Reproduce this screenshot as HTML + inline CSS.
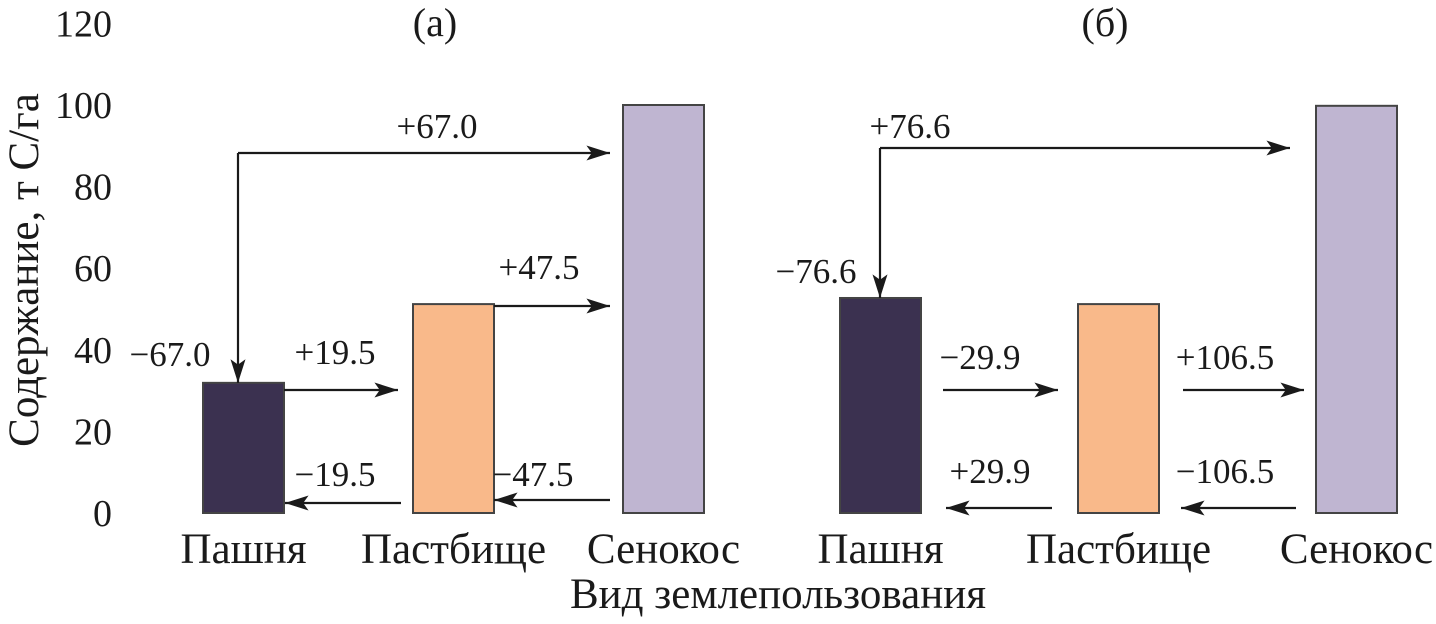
<!DOCTYPE html>
<html><head><meta charset="utf-8"><style>
html,body{margin:0;padding:0;background:#fff;}
svg text{font-family:"Liberation Serif",serif;fill:#1a1a1a;}
</style></head><body>
<svg id="c" width="1436" height="619" viewBox="0 0 1436 619" xmlns="http://www.w3.org/2000/svg">
<defs>
<marker id="ah2" viewBox="0 0 22 14" refX="22" refY="7" markerWidth="24" markerHeight="15" markerUnits="userSpaceOnUse" orient="auto"><path d="M0,0 L22,7 L0,14 L5,7 z" fill="#1a1a1a"/></marker></defs>
</svg>
<script>
const categories=["Пашня","Пастбище","Сенокос"];
const valuesA=[31.9,51.2,100];
const valuesB=[52.7,51.2,99.8];
const yTicks=[0,20,40,60,80,100,120];
const labelsA=["+67.0","−67.0","+19.5","−19.5","+47.5","−47.5"];
const labelsB=["+76.6","−76.6","−29.9","+29.9","+106.5","−106.5"];
const svg=document.getElementById('c');
const NS="http://www.w3.org/2000/svg";
function y(v){return 513-v*4.08;}
const barW=81;
const xA=[203,413,623], xB=[840,1078,1316];
const colors=["#3b3150","#f9b98a","#bfb5d1"];
function mk(tag,attrs,parent){const e=document.createElementNS(NS,tag);for(const k in attrs)e.setAttribute(k,attrs[k]);(parent||svg).appendChild(e);return e;}
function txt(s,x,yy,size,anchor){const t=mk('text',{x:x,y:yy,'font-size':size,'text-anchor':anchor||'middle'});t.textContent=s;return t;}
yTicks.forEach(v=>{const t=txt(String(v),112,y(v)+13,38,'end');

});
const yt=txt("Содержание, т С/га",0,0,43,'middle');yt.setAttribute('transform','translate(38,270) rotate(-90)');


const xt=txt("Вид землепользования",778,608,43);


const pa=txt("(а)",435,36,40);
const pb=txt("(б)",1105,36,40);
function bars(xs,vals,p){vals.forEach((v,i)=>{const r=mk('rect',{x:xs[i],y:y(v),width:barW,height:y(0)-y(v),fill:colors[i],stroke:'#444',"stroke-width":2});


const c=txt(categories[i],xs[i]+barW/2,563,43);

});}
bars(xA,valuesA,'a');bars(xB,valuesB,'b');
function arrow(pts){const l=mk('polyline',{points:pts.map(p=>p.join(',')).join(' '),fill:'none',stroke:'#1a1a1a','stroke-width':2.2,'marker-end':'url(#ah2)'});

}
function lab(s,x,yy,anchor){const t=txt(s,x,yy,35,anchor);

}
// panel a
arrow([[238,153],[610,153]]);arrow([[238,153],[238,y(valuesA[0])]]);
lab(labelsA[0],437,138);lab(labelsA[1],170,366);
arrow([[284,390],[398,390]]);lab(labelsA[2],335,364);
arrow([[401,503],[285,503]]);lab(labelsA[3],335,486);
arrow([[494,306],[610,306]]);lab(labelsA[4],539,279);
arrow([[610,500],[494,500]]);lab(labelsA[5],533,486);
// panel b
arrow([[880,148],[1290,148]]);arrow([[880,148],[880,y(valuesB[0])]]);
lab(labelsB[0],910,138);lab(labelsB[1],816,283);
arrow([[943,390],[1058,390]]);lab(labelsB[2],980,369);
arrow([[1052,508],[946,508]]);lab(labelsB[3],990,483);
arrow([[1183,390],[1304,390]]);lab(labelsB[4],1225,369);
arrow([[1296,508],[1181,508]]);lab(labelsB[5],1225,483);
</script>
</body></html>
